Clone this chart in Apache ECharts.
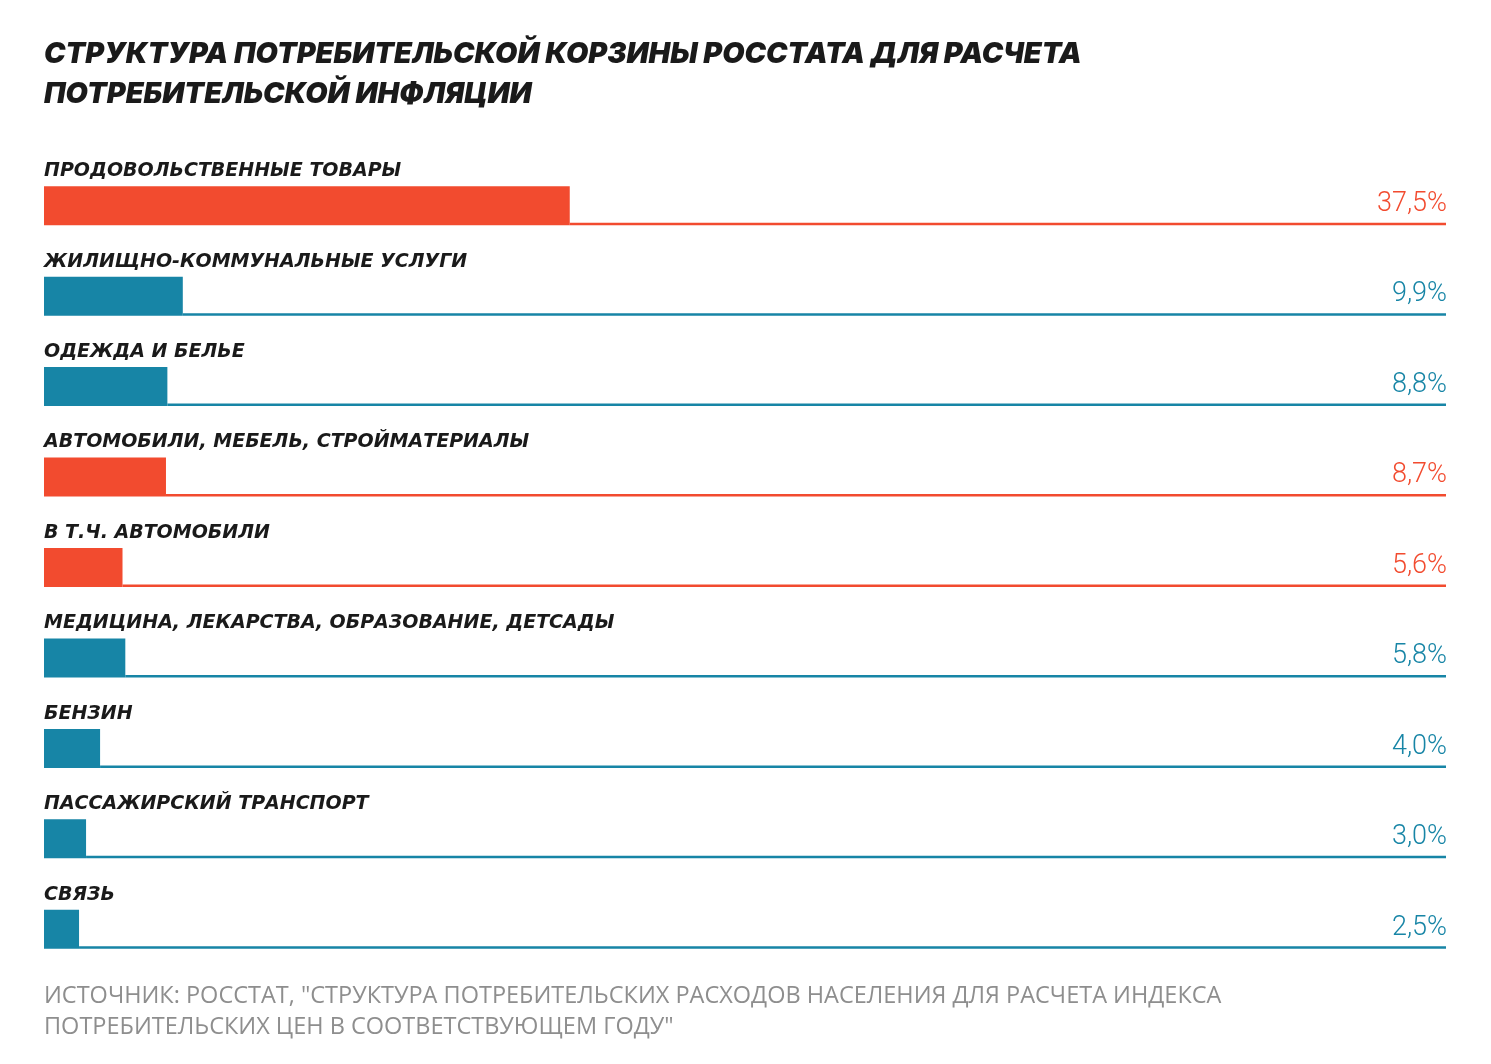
<!DOCTYPE html>
<html>
<head>
<meta charset="utf-8">
<script src="https://cdn.jsdelivr.net/npm/echarts@6/dist/echarts.min.js"></script>
<style>
  html, body { margin: 0; padding: 0; background: #fff; }
  #container { width: 1491px; height: 1064px; }
</style>
</head>
<body>
<div id="container"></div>
<script>
// данные
var categories = [
	'ПРОДОВОЛЬСТВЕННЫЕ ТОВАРЫ',
	'ЖИЛИЩНО-КОММУНАЛЬНЫЕ УСЛУГИ',
	'ОДЕЖДА И БЕЛЬЕ',
	'АВТОМОБИЛИ, МЕБЕЛЬ, СТРОЙМАТЕРИАЛЫ',
	'В Т.Ч. АВТОМОБИЛИ',
	'МЕДИЦИНА, ЛЕКАРСТВА, ОБРАЗОВАНИЕ, ДЕТСАДЫ',
	'БЕНЗИН',
	'ПАССАЖИРСКИЙ ТРАНСПОРТ',
	'СВЯЗЬ'
];
var values = [37.5, 9.9, 8.8, 8.7, 5.6, 5.8, 4.0, 3.0, 2.5];
var groups = ['red', 'blue', 'blue', 'red', 'red', 'blue', 'blue', 'blue', 'blue'];
var valueLabels = ['37,5%', '9,9%', '8,8%', '8,7%', '5,6%', '5,8%', '4,0%', '3,0%', '2,5%'];

var colors = { red: '#F24B2F', blue: '#1785A6' };
var barH = 39;

var myChart = echarts.init(document.getElementById('container'));

var option = {
	backgroundColor: '#fff',
	animation: false,
	title: {
		text: 'СТРУКТУРА ПОТРЕБИТЕЛЬСКОЙ КОРЗИНЫ РОССТАТА ДЛЯ РАСЧЕТА\nПОТРЕБИТЕЛЬСКОЙ ИНФЛЯЦИИ',
		left: 44,
		top: 34,
		padding: 0,
		textStyle: {
			fontFamily: 'Inter',
			fontWeight: 900,
			fontStyle: 'italic',
			fontSize: 28.8,
			lineHeight: 40,
			color: '#1a1a1a'
		}
	},
	graphic: [{
		type: 'text',
		left: 44,
		top: 981,
		style: {
			text: 'ИСТОЧНИК: РОССТАТ, "СТРУКТУРА ПОТРЕБИТЕЛЬСКИХ РАСХОДОВ НАСЕЛЕНИЯ ДЛЯ РАСЧЕТА ИНДЕКСА\nПОТРЕБИТЕЛЬСКИХ ЦЕН В СООТВЕТСТВУЮЩЕМ ГОДУ"',
			font: '23.5px "Open Sans"',
			lineHeight: 31,
			fill: '#8e8e8e'
		}
	}],
	grid: { left: 44, right: 45, top: 160.5, bottom: 89.5 },
	xAxis: { type: 'value', min: 0, max: 100, show: false },
	yAxis: { type: 'category', data: categories, inverse: true, show: false },
	series: [{
		type: 'custom',
		data: values.map(function (v, i) { return [v, i]; }),
		encode: { x: 0, y: 1 },
		renderItem: function (params, api) {
			var i = api.value(1);
			var v = api.value(0);
			var p0 = api.coord([0, i]);
			var p1 = api.coord([v, i]);
			var pe = api.coord([100, i]);
			var c = colors[groups[i]];
			var top = p0[1] - barH / 2;
			var base = p0[1] + barH / 2;
			return {
				type: 'group',
				children: [
					{ type: 'rect', shape: { x: p0[0], y: top, width: p1[0] - p0[0], height: barH }, style: { fill: c } },
					{ type: 'rect', shape: { x: p1[0], y: base - 2.5, width: pe[0] - p1[0], height: 2.5 }, style: { fill: c } },
					{ type: 'text', style: { x: p0[0], y: top - 15, text: categories[i], font: 'italic bold 19px "DejaVu Sans"', fill: '#1a1a1a', verticalAlign: 'middle', align: 'left' } },
					{ type: 'text', style: { x: pe[0] + 1, y: base - 21, text: valueLabels[i], font: '300 27px Roboto', fill: c, verticalAlign: 'middle', align: 'right' } }
				]
			};
		}
	}]
};

myChart.setOption(option);
</script>
</body>
</html>
